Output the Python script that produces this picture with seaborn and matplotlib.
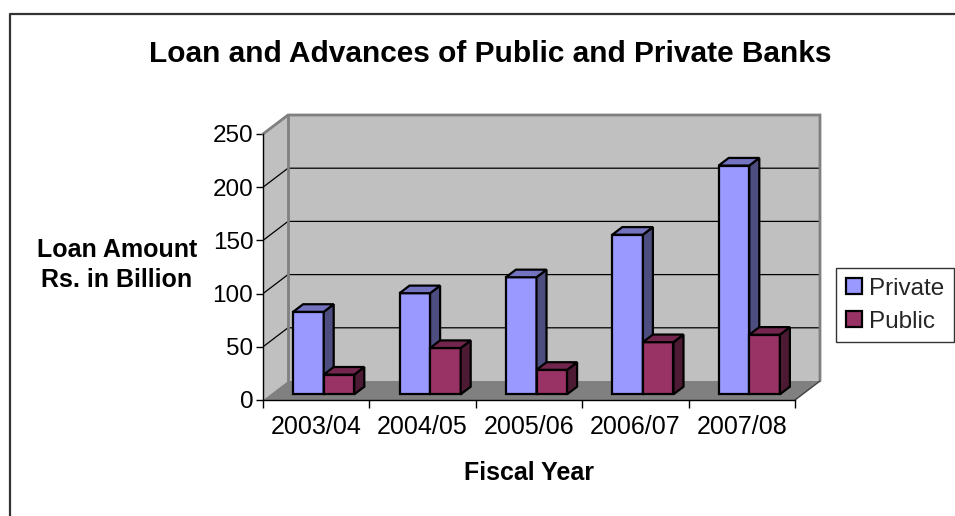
import matplotlib
matplotlib.use("Agg")
import matplotlib.pyplot as plt
import seaborn as sns
import pandas as pd
from matplotlib.patches import Polygon, Rectangle, Patch
from matplotlib.lines import Line2D

# ---- data -------------------------------------------------------------
years = ["2003/04", "2004/05", "2005/06", "2006/07", "2007/08"]
private = [77.5, 95, 110, 150, 215]
public = [18.5, 43.5, 23, 49, 56]
series = ["Private", "Public"]
y_ticks = [0, 50, 100, 150, 200, 250]

front_colors = {"Private": "#9999FF", "Public": "#993366"}
top_colors = {"Private": "#7373BF", "Public": "#73264D"}
side_colors = {"Private": "#4D4D80", "Public": "#4D1A33"}

sns.set_style("white")
plt.rcParams["font.family"] = ["Liberation Sans", "DejaVu Sans"]

df = pd.DataFrame({
    "Fiscal Year": years * 2,
    "Amount": private + public,
    "Bank": ["Private"] * len(years) + ["Public"] * len(years),
})

W, H = 955, 516
fig = plt.figure(figsize=(W / 100, H / 100), dpi=100)
ax = fig.add_axes([263 / W, (H - 400) / H, 557 / W, 285 / H])

# oblique projection of the chart depth (in data units)
DX = 25 / 106.4
DY = 19 / 1.064
ymax = 250
n = len(years)
x0, x1 = -0.5, n - 0.5
front_depth, bar_depth = 0.3, 0.4
edge_lw = 1.6

sns.barplot(data=df, x="Fiscal Year", y="Amount", hue="Bank",
            order=years, hue_order=series, palette=front_colors,
            width=0.575, gap=0, saturation=1, errorbar=None,
            edgecolor="black", linewidth=edge_lw, legend=False, ax=ax)

# ---- walls and floor --------------------------------------------------
wall_c, floor_c, border_c = "#C0C0C0", "#808080", "#808080"
ax.add_patch(Polygon([(x0, 0), (x0 + DX, DY), (x0 + DX, DY + ymax), (x0, ymax)],
                     closed=True, fc=wall_c, ec="none", zorder=0))
ax.add_patch(Rectangle((x0 + DX, DY), x1 - x0, ymax, fc=wall_c, ec="none", zorder=0))
ax.add_patch(Polygon([(x0, 0), (x1, 0), (x1 + DX, DY), (x0 + DX, DY)],
                     closed=True, fc=floor_c, ec="none", zorder=0.5))

for v in y_ticks[1:-1]:
    ax.plot([x0, x0 + DX, x1 + DX], [v, v + DY, v + DY], color="black", lw=0.9, zorder=1)

# wall borders
ax.plot([x0, x0 + DX, x1 + DX, x1 + DX], [ymax, ymax + DY, ymax + DY, DY],
        color=border_c, lw=2, zorder=1.2, solid_joinstyle="miter", clip_on=False)
ax.plot([x0 + DX, x0 + DX], [DY, ymax + DY], color=border_c, lw=2, zorder=1.2)
ax.plot([x1, x1 + DX], [0, DY], color="#404040", lw=1, zorder=1.2)

# ---- 3D bar faces ------------------------------------------------------
bdx, bdy = bar_depth * DX, bar_depth * DY
for k, (name, cont) in enumerate(zip(series, ax.containers)):
    for i, p in enumerate(cont.patches):
        z = 10 + 2 * i + k
        x = p.get_x() + front_depth * DX
        y = front_depth * DY
        w, h = p.get_width(), p.get_height()
        p.set_x(x)
        p.set_y(y)
        p.set_zorder(z)
        ax.add_patch(Polygon([(x + w, y), (x + w + bdx, y + bdy),
                              (x + w + bdx, y + h + bdy), (x + w, y + h)],
                             closed=True, fc=side_colors[name], ec="black",
                             lw=edge_lw, zorder=z))
        ax.add_patch(Polygon([(x, y + h), (x + w, y + h),
                              (x + w + bdx, y + h + bdy), (x + bdx, y + h + bdy)],
                             closed=True, fc=top_colors[name], ec="black",
                             lw=edge_lw, zorder=z))

# ---- axes --------------------------------------------------------------
ax.set_xlim(x0, x1 + DX)
ax.set_ylim(0, ymax + DY)
for s in ["top", "right"]:
    ax.spines[s].set_visible(False)
ax.spines["left"].set_bounds(0, ymax)
ax.spines["bottom"].set_bounds(x0, x1)
for s in ["left", "bottom"]:
    ax.spines[s].set_color("black")
    ax.spines[s].set_linewidth(1.0)
    ax.spines[s].set_zorder(2)

ax.set_yticks(y_ticks)
ax.set_xticks(range(n))
ax.set_xticklabels(years)
ax.set_xticks([x0 + i for i in range(n + 1)], minor=True)
ax.tick_params(axis="y", direction="out", length=5, width=1, pad=2,
               labelsize=17.5, color="black", labelcolor="black", left=True)
ax.tick_params(axis="x", which="major", length=0, pad=11, labelsize=18, labelcolor="black")
ax.tick_params(axis="x", which="minor", direction="out", length=6, width=1,
               color="black", bottom=True)

ax.set_xlabel("Fiscal Year", fontsize=18, fontweight="bold", color="black")
ax.xaxis.set_label_coords((529 - 263) / 557, (400 - 473) / 285)
ax.xaxis.label.set_va("center")

ax.set_ylabel("Loan Amount\nRs. in Billion", fontsize=18, fontweight="bold",
              color="black", rotation=0, ha="center", va="center",
              multialignment="center", linespacing=1.32)
ax.yaxis.set_label_coords((117 - 263) / 557, (400 - 265) / 285)

ax.set_title("Loan and Advances of Public and Private Banks", fontsize=21.5,
             fontweight="bold", color="black", pad=0,
             x=(490 - 263) / 557, y=(400 - 54) / 285, va="center")

handles = [Patch(facecolor=front_colors[s], edgecolor="black", lw=1.6, label=s)
           for s in series]
leg = ax.legend(handles=handles, loc="upper left",
                bbox_to_anchor=(836 / W, 1 - 268 / H),
                bbox_transform=fig.transFigure, fontsize=17.5, frameon=True,
                fancybox=False, edgecolor="black", borderaxespad=0,
                handlelength=0.65, handleheight=0.65, handletextpad=0.3,
                labelspacing=0.45, borderpad=0.4)
leg.get_frame().set_linewidth(1.0)

# outer chart border
fig.add_artist(Line2D([10 / W, 10 / W, 1.0], [0.0, 1 - 14 / H, 1 - 14 / H],
                      transform=fig.transFigure, color="#333333", lw=1.6))

fig.savefig("out.png", dpi=100)
